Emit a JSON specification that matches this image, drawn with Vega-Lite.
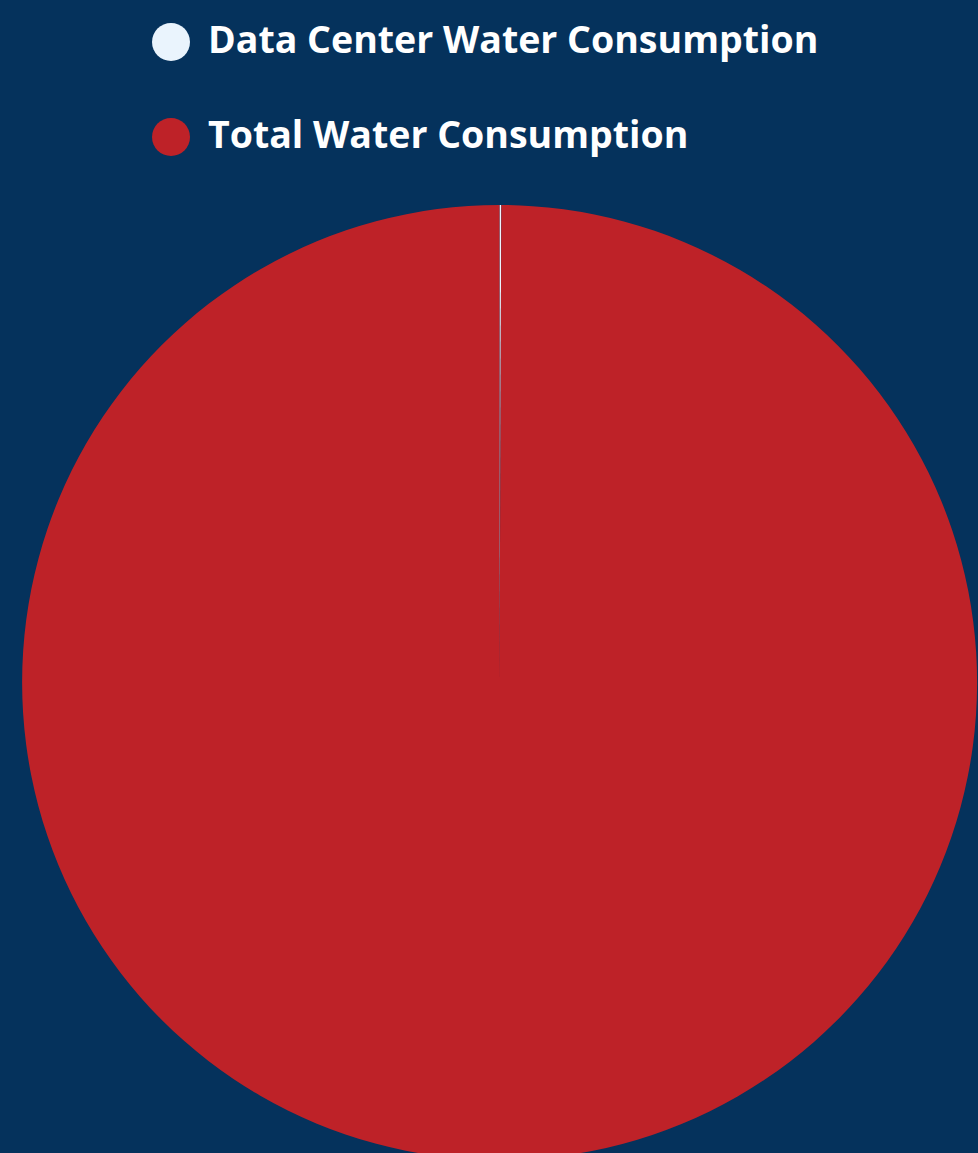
{
  "$schema": "https://vega.github.io/schema/vega-lite/v6.json",
  "width": 955,
  "height": 955,
  "autosize": {"type": "none"},
  "padding": {"left": 22, "top": 205, "right": 1, "bottom": 0},
  "background": "#05325C",
  "data": {
    "values": [
      {"category": "Data Center Water Consumption", "value": 0.06},
      {"category": "Total Water Consumption", "value": 99.94}
    ]
  },
  "mark": {"type": "arc", "outerRadius": 477.5},
  "encoding": {
    "theta": {"field": "value", "type": "quantitative", "stack": true},
    "order": {"field": "category", "sort": "ascending"},
    "color": {
      "field": "category",
      "type": "nominal",
      "scale": {
        "domain": ["Data Center Water Consumption", "Total Water Consumption"],
        "range": ["#EAF4FD", "#BE2228"]
      },
      "legend": {
        "title": null,
        "orient": "none",
        "legendX": 130,
        "legendY": -182,
        "direction": "vertical",
        "symbolType": "circle",
        "symbolSize": 1444,
        "symbolStrokeWidth": 0,
        "labelFont": "Open Sans",
        "labelFontWeight": "bold",
        "labelFontSize": 37.5,
        "labelColor": "#FFFFFF",
        "labelLimit": 900,
        "labelOffset": 18,
        "rowPadding": 57
      }
    }
  },
  "config": {"view": {"stroke": null}}
}
